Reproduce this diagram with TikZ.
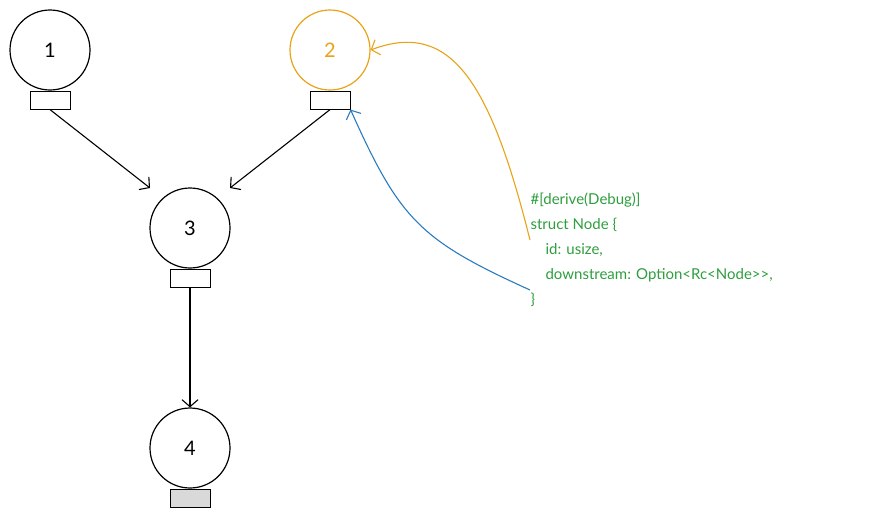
\documentclass[tikz,border=0pt]{standalone}
\usepackage{fontspec}
\setmainfont{Lato}
\usetikzlibrary{positioning,arrows.meta}
\definecolor{orng}{HTML}{E8A317}
\definecolor{blu}{HTML}{2B7BC0}
\definecolor{grn}{HTML}{2E9E3E}
\tikzset{
  circ/.style={circle, draw, line width=1.2pt, minimum size=80pt, inner sep=0pt, font=\fontsize{20}{24}\selectfont},
  tag/.style={draw, line width=1pt, minimum width=40pt, minimum height=18pt, inner sep=0pt},
}
\begin{document}
\begin{tikzpicture}[x=1pt, y=-1pt, ->, line width=1.1pt, >={Straight Barb[length=7pt, width=16pt]}]
    \useasboundingbox (0,0) rectangle (890,520);
    \node[circ] (c1) at (50,50) {1};
    \node[circ, draw=orng, text=orng] (c2) at (330,50) {2};
    \node[circ] (c3) at (190,228) {3};
    \node[circ] (c4) at (190,448) {4};
    \node[tag, below=0pt of c1] (t1) {};
    \node[tag, below=0pt of c2] (t2) {};
    \node[tag, below=0pt of c3] (t3) {};
    \node[tag, fill=black!15, below=0pt of c4] (t4) {};
    \node[text=grn, align=left, anchor=north west, inner sep=0pt, font=\fontsize{15}{25}\selectfont] (code) at (530,192)
        {\#[derive(Debug)]\\struct Node \{\\\quad id: usize,\\\quad downstream: Option<Rc<Node>{}>,\\\}};
    \coordinate (o) at (530,240);
    \coordinate (b) at (530,290);
    \draw (t1.south) -- (150,188);
    \draw (t2.south) -- (230,188);
    \draw (t3.south) -- (c4.north);
    \draw[orng] (o) .. controls (490,80) and (450,20) .. (c2.east);
    \draw[blu] (b) .. controls (420,240) and (400,220) .. (t2.south east);
\end{tikzpicture}
\end{document}
